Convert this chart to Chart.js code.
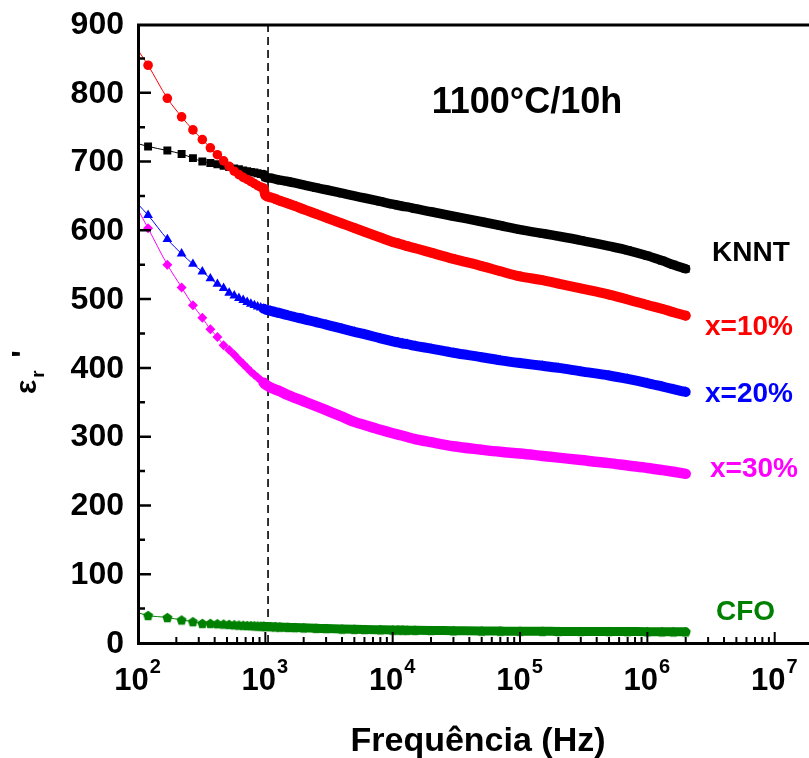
<!DOCTYPE html>
<html><head><meta charset="utf-8">
<style>html,body{margin:0;padding:0;background:#fff}canvas{display:block}</style>
<script src="https://cdn.jsdelivr.net/npm/chart.js@4.4.1/dist/chart.umd.min.js"></script>
</head><body>
<canvas id="c" width="809" height="758"></canvas>
<script>
// ---- data ----
const freq = [100,120,170,220,270,320,370,420,470,520,570,620,670,720,770,820,870,920,970,
  1000,1100,1200,1300,1500,1700,2000,2500,3000,4000,5000,6000,8000,
  10000,11000,12000,13000,15000,20000,30000,50000,70000,
  100000,150000,200000,300000,500000,700000,
  1000000,1300000,1600000,2000000];
const knnt = [726,722,716,711,705,700,698,696,694,692,690,689,687,686,685,684,683,682,681,
  677,676,674.5,673,671,669,666,662,659,654,650,647,642,
  638,636.5,635,634,631.5,627,620.5,612.5,607,
  601,595.5,591.5,585.5,577,571,
  563,556,550,544];
const x10 = [862,840,792,765,746,732,720,710,701,693,686,681,677,674,671,668,665,663,661,
  651,648,645.5,643,639,635.5,630.5,624,618.5,610,603.5,598,589.5,
  583,581,579,577,574,567.5,558.5,548,540.5,
  533,527.5,522.5,515.5,506.5,499.5,
  491.5,486,481,476];
const x20 = [638,622,587,566,551,540,530,522,516,509,505,501.5,498.5,495.5,493,491,489,487.5,486,
  485,483,481,479.5,476.5,474,471,466.5,463,457,452.5,449,443,
  438.5,437,435.5,434.5,432,428,422,415.5,411,
  407,403,400,395,389,384,
  378,373,369,365];
const x30 = [630,603,550,517,491,473,456,445,433,426,419,412,405.5,400,394.5,390,386,382,378.5,
  376,371.5,368.5,366,360.5,356.5,351.5,344.5,338.5,329,321.5,317,310,
  305,303,301.3,299.5,296.5,292,286,281,278,
  275.5,272,269.5,266,261.5,258,
  254.5,251.5,249,246];
const cfo = [44,40,37,33.5,31,28.5,28.5,28,27.5,27,26.5,26,25.8,25.5,25.3,25,24.8,24.6,24.4,
  24,23.8,23.5,23.2,22.8,22.4,22,21.5,21,20.4,20,19.7,19.3,
  19,18.9,18.8,18.7,18.5,18.2,17.9,17.5,17.3,
  17.1,17,16.9,16.8,16.7,16.6,
  16.5,16.4,16.3,16.2];
const seriesLabels = ['KNNT','x=10%','x=20%','x=30%','CFO'];
const yTicks = [0,100,200,300,400,500,600,700,800,900];
const yTickLabels = ['0','100','200','300','400','500','600','700','800','900'];
const xExponents = [2,3,4,5,6,7];
const xTickBase = '10';
const dashedFreq = 1050;
const titleText = '1100°C/10h';
const xTitle = 'Frequência (Hz)';

const FONT = "'Liberation Sans', Arial, Helvetica, sans-serif";

function pentagonImg(color, r) {
  const s = Math.ceil(r * 2) + 2;
  const c = document.createElement('canvas');
  c.width = s; c.height = s;
  const g = c.getContext('2d');
  g.fillStyle = color;
  g.beginPath();
  for (let i = 0; i < 5; i++) {
    const a = -Math.PI / 2 + i * 2 * Math.PI / 5;
    const px = s / 2 + r * Math.cos(a), py = s / 2 + 0.5 + r * Math.sin(a);
    if (i === 0) g.moveTo(px, py); else g.lineTo(px, py);
  }
  g.closePath(); g.fill();
  return c;
}

function mk(label, vals, color, style, radius, band, order) {
  return {
    label,
    data: freq.map((f, i) => ({ x: f, y: vals[i] })),
    borderColor: color,
    backgroundColor: color,
    pointBackgroundColor: color,
    pointBorderColor: color,
    pointBorderWidth: 0,
    pointStyle: style,
    pointRadius: freq.map(f => f === 100 ? 0 : radius),
    pointHoverRadius: 0,
    showLine: true,
    borderWidth: 1,
    borderCapStyle: 'round',
    borderJoinStyle: 'round',
    cubicInterpolationMode: 'monotone',
    order,
    segment: { borderWidth: ctx => ctx.p0.parsed.x >= 960 ? band : 1 }
  };
}

const deco = {
  id: 'deco',
  beforeDatasetsDraw(chart) {
    const { ctx, chartArea: a, scales: { x } } = chart;
    ctx.save();
    ctx.strokeStyle = '#000';
    ctx.lineWidth = 1.6;
    ctx.setLineDash([8, 5]);
    const px = x.getPixelForValue(dashedFreq);
    ctx.beginPath(); ctx.moveTo(px, a.top); ctx.lineTo(px, a.bottom); ctx.stroke();
    ctx.restore();
  },
  afterDatasetsDraw(chart) {
    const { ctx, chartArea: a, scales: { x, y } } = chart;
    const W = chart.width;
    ctx.save();
    ctx.strokeStyle = '#000';
    ctx.fillStyle = '#000';
    // frame lines
    ctx.lineWidth = 3;
    ctx.beginPath();
    ctx.moveTo(a.left + 0.5, a.top - 0.5); ctx.lineTo(a.left + 0.5, a.bottom + 2);
    ctx.moveTo(a.left - 1, a.bottom + 0.5); ctx.lineTo(W, a.bottom + 0.5);
    ctx.moveTo(a.left - 1, a.top + 1); ctx.lineTo(W, a.top + 1);
    ctx.stroke();
    // y ticks
    ctx.lineWidth = 2.5;
    ctx.beginPath();
    yTicks.forEach((v, i) => {
      const py = y.getPixelForValue(v);
      if (v > 0 && v < 900) { ctx.moveTo(a.left, py); ctx.lineTo(a.left + 13, py); }
      if (i < yTicks.length - 1) {
        const pm = y.getPixelForValue(v + 50);
        ctx.moveTo(a.left, pm); ctx.lineTo(a.left + 7, pm);
      }
    });
    ctx.stroke();
    // x ticks
    ctx.lineWidth = 2;
    ctx.beginPath();
    xExponents.forEach(e => {
      const base = Math.pow(10, e);
      const px = x.getPixelForValue(base);
      if (e > 2) { ctx.moveTo(px, a.bottom); ctx.lineTo(px, a.bottom - 11); }
      for (let k = 2; k <= 9; k++) {
        const v = k * base;
        if (v > x.max) break;
        const pm = x.getPixelForValue(v);
        ctx.moveTo(pm, a.bottom); ctx.lineTo(pm, a.bottom - 6);
      }
    });
    ctx.stroke();
    // y tick labels
    ctx.font = 'bold 32px ' + FONT;
    ctx.textAlign = 'right';
    ctx.textBaseline = 'middle';
    yTicks.forEach((v, i) => ctx.fillText(yTickLabels[i], 124, y.getPixelForValue(v) + 1));
    // x tick labels with exponent
    ctx.textAlign = 'left';
    ctx.textBaseline = 'alphabetic';
    xExponents.forEach(e => {
      const px = x.getPixelForValue(Math.pow(10, e));
      ctx.font = 'bold 31px ' + FONT;
      const wb = ctx.measureText(xTickBase).width;
      ctx.font = 'bold 20px ' + FONT;
      const we = ctx.measureText(String(e)).width;
      const sx = px - (wb + we) / 2 - 1;
      ctx.font = 'bold 31px ' + FONT;
      ctx.fillText(xTickBase, sx, 690);
      ctx.font = 'bold 20px ' + FONT;
      ctx.fillText(String(e), sx + wb + 1, 673);
    });
    // axis title x
    ctx.font = 'bold 34px ' + FONT;
    ctx.textAlign = 'center';
    ctx.fillText(xTitle, 478, 751);
    // y axis title (rotated)
    ctx.save();
    ctx.translate(36, 394);
    ctx.rotate(-Math.PI / 2);
    ctx.textAlign = 'left';
    ctx.font = 'bold 30px ' + FONT;
    ctx.fillText('ε', 0, 0);
    const we2 = ctx.measureText('ε').width;
    ctx.font = 'bold 19px ' + FONT;
    ctx.fillText('r', we2 + 2, 8);
    ctx.font = 'bold 32px ' + FONT;
    ctx.fillText("'", we2 + 22, -2);
    ctx.restore();
    // annotations
    ctx.textAlign = 'center';
    ctx.font = 'bold 36px ' + FONT;
    ctx.fillText(titleText, 527, 113);
    ctx.textAlign = 'left';
    ctx.font = 'bold 28px ' + FONT;
    const ann = [
      [seriesLabels[0], '#000000', 712, 261],
      [seriesLabels[1], '#ff0000', 705, 335],
      [seriesLabels[2], '#0000ff', 705, 402],
      [seriesLabels[3], '#ff00ff', 710, 477],
      [seriesLabels[4], '#008000', 716, 620]
    ];
    ann.forEach(([t, c, tx, ty]) => { ctx.fillStyle = c; ctx.fillText(t, tx, ty); });
    ctx.restore();
  }
};

new Chart(document.getElementById('c'), {
  type: 'scatter',
  data: {
    datasets: [
      mk(seriesLabels[0], knnt, '#000000', 'rect', 5.6, 9.5, 5),
      mk(seriesLabels[1], x10, '#ff0000', 'circle', 4.8, 10, 4),
      mk(seriesLabels[2], x20, '#0000ff', 'triangle', 5.6, 10, 3),
      mk(seriesLabels[3], x30, '#ff00ff', 'rectRot', 5, 10.5, 2),
      mk(seriesLabels[4], cfo, '#008000', pentagonImg('#008000', 5.3), 5, 9, 1)
    ]
  },
  options: {
    responsive: false,
    animation: false,
    devicePixelRatio: 1,
    layout: { padding: { top: 24, right: 1, left: 0, bottom: 0 } },
    plugins: { legend: { display: false }, tooltip: { enabled: false } },
    events: [],
    scales: {
      x: {
        type: 'logarithmic', min: 100, max: 1.68e7,
        ticks: { display: false },
        grid: { display: false },
        border: { display: false },
        afterFit: s => { s.height = 115; }
      },
      y: {
        type: 'linear', min: 0, max: 900,
        ticks: { display: false, stepSize: 100 },
        grid: { display: false },
        border: { display: false },
        afterFit: s => { s.width = 138; }
      }
    }
  },
  plugins: [deco]
});
</script>
</body></html>
